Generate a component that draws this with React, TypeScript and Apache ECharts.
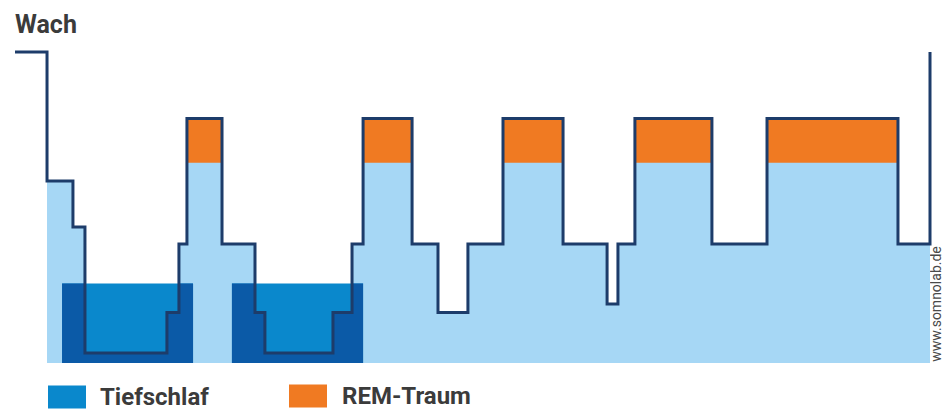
import React, { useEffect, useRef } from "react";
import * as echarts from "echarts";

// Sleep stage levels (0 = bottom of chart, 100 = "Wach")
const LEVEL_WACH = 100;
const LEVEL_REM = 78.6;
const REM_BOTTOM = 64.4;
const DEEP_TOP = 25.6;

// Step start times (minutes) and the stage level held from that time on
const stepTimes = [0, 16.8, 30.4, 36.7, 79.7, 86.0, 90.2, 108.6, 125.9, 131.1, 166.8, 176.8, 182.6, 208.3, 221.9, 237.6, 256.0, 287.5, 310.6, 316.3, 325.2, 365.6, 394.5, 463.2, 480];
const stepLevels = [LEVEL_WACH, 58.5, 43.7, 3.2, 16.2, 38.3, LEVEL_REM, 38.3, 16.2, 3.2, 16.2, 38.3, LEVEL_REM, 38.3, 16.2, 38.3, LEVEL_REM, 38.3, 19.0, 38.3, LEVEL_REM, 38.3, LEVEL_REM, 38.3, LEVEL_WACH];

// Deep sleep (Tiefschlaf) phases, minutes
const deepStarts = [24.7, 113.8];
const deepEnds = [93.4, 182.6];

const legendNames = ["Tiefschlaf", "REM-Traum"];

const COLOR_LINE = "#1d3c6a";
const COLOR_LIGHT = "#a6d7f5";
const COLOR_DEEP = "#0a88cc";
const COLOR_DEEP_DARK = "#0b5aa7";
const COLOR_REM = "#f07a22";
const COLOR_TEXT = "#3b3b3b";

export default function App() {
  const ref = useRef<HTMLDivElement>(null);

  useEffect(() => {
    if (!ref.current) return;
    const chart = echarts.init(ref.current, undefined, { renderer: "svg" });

    const lineData = stepTimes.map((t, i) => [t, stepLevels[i]]);
    // area: from first descent until end, staying at last sleep level
    const areaData = lineData.slice(1, lineData.length - 1);
    areaData.push([stepTimes[stepTimes.length - 1], stepLevels[stepLevels.length - 2]]);

    const remData: number[][] = [];
    for (let i = 0; i < stepTimes.length - 1; i++) {
      if (stepLevels[i] === LEVEL_REM) remData.push([stepTimes[i], stepTimes[i + 1]]);
    }
    const deepData = deepStarts.map((s, i) => [s, deepEnds[i]]);

    const legendText = {
      fontFamily: "Roboto",
      fontWeight: "bold",
      fontSize: 24,
      lineHeight: 22,
      color: COLOR_TEXT,
    };

    const option: any = {
      animation: false,
      title: {
        text: "Wach",
        left: 15,
        top: 12,
        padding: 0,
        textStyle: { fontFamily: "Roboto", fontWeight: "bold", fontSize: 25, color: COLOR_TEXT },
      },
      legend: [
        {
          data: [legendNames[0]],
          left: 48,
          top: 385,
          padding: 0,
          icon: "rect",
          itemWidth: 38,
          itemHeight: 23,
          selectedMode: false,
          textStyle: { ...legendText, padding: [0, 0, 0, 9] },
        },
        {
          data: [legendNames[1]],
          left: 289,
          top: 384,
          padding: 0,
          icon: "rect",
          itemWidth: 38,
          itemHeight: 23,
          selectedMode: false,
          textStyle: { ...legendText, padding: [0, 0, 0, 10] },
        },
      ],
      grid: { left: 15, right: 13, top: 52, bottom: 47 },
      xAxis: { type: "value", min: 0, max: 480, show: false },
      yAxis: { type: "value", min: 0, max: 100, show: false },
      graphic: [
        {
          type: "text",
          x: 936,
          y: 304,
          rotation: Math.PI / 2,
          style: {
            text: "www.somnolab.de",
            fontFamily: "Roboto",
            fontSize: 14,
            lineHeight: 12,
            fill: "#4a4a4a",
            align: "center",
            verticalAlign: "middle",
          },
        },
      ],
      series: [
        {
          type: "line",
          name: "Schlaf",
          data: areaData,
          step: "end",
          symbol: "none",
          silent: true,
          lineStyle: { width: 0 },
          areaStyle: { color: COLOR_LIGHT, opacity: 1 },
          z: 1,
        },
        {
          type: "custom",
          name: legendNames[0],
          data: deepData,
          encode: { x: [0, 1] },
          silent: true,
          itemStyle: { color: COLOR_DEEP },
          z: 2,
          renderItem: (params: any, api: any) => {
            const x0 = api.value(0);
            const x1 = api.value(1);
            const tl = api.coord([x0, DEEP_TOP]);
            const br = api.coord([x1, 0]);
            const pts: number[][] = [api.coord([x0, 0])];
            for (let i = 0; i < stepTimes.length - 1; i++) {
              const s = Math.max(stepTimes[i], x0);
              const e = Math.min(stepTimes[i + 1], x1);
              if (e > s) {
                const lv = Math.min(stepLevels[i], DEEP_TOP);
                pts.push(api.coord([s, lv]));
                pts.push(api.coord([e, lv]));
              }
            }
            pts.push(api.coord([x1, 0]));
            return {
              type: "group",
              children: [
                {
                  type: "rect",
                  shape: { x: tl[0], y: tl[1], width: br[0] - tl[0], height: br[1] - tl[1] },
                  style: { fill: COLOR_DEEP },
                },
                {
                  type: "polygon",
                  shape: { points: pts },
                  style: { fill: COLOR_DEEP_DARK },
                },
              ],
            };
          },
        },
        {
          type: "custom",
          name: legendNames[1],
          data: remData,
          encode: { x: [0, 1] },
          silent: true,
          itemStyle: { color: COLOR_REM },
          z: 3,
          renderItem: (params: any, api: any) => {
            const tl = api.coord([api.value(0), LEVEL_REM]);
            const br = api.coord([api.value(1), REM_BOTTOM]);
            return {
              type: "rect",
              shape: { x: tl[0], y: tl[1], width: br[0] - tl[0], height: br[1] - tl[1] },
              style: { fill: COLOR_REM },
            };
          },
        },
        {
          type: "line",
          name: "Hypnogramm",
          data: lineData,
          step: "end",
          symbol: "none",
          silent: true,
          clip: false,
          lineStyle: { color: COLOR_LINE, width: 3, join: "miter", cap: "butt" },
          z: 4,
        },
      ],
    };

    chart.setOption(option);
    return () => chart.dispose();
  }, []);

  return (
    <div
      ref={ref}
      style={{ position: "fixed", left: 0, top: 0, width: 943, height: 410, background: "#ffffff" }}
    />
  );
}
